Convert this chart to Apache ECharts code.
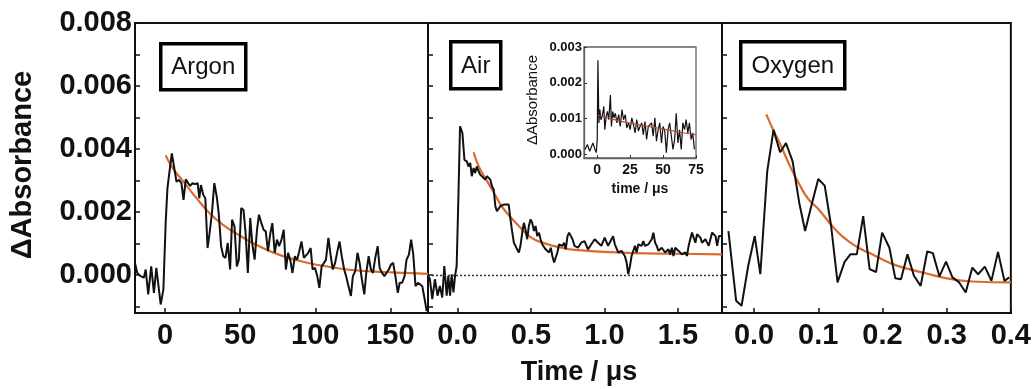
<!DOCTYPE html>
<html>
<head>
<meta charset="utf-8">
<script src="https://cdn.jsdelivr.net/npm/echarts@6.0.0/dist/echarts.min.js"></script>
<style>
html,body{margin:0;padding:0;background:#fff;}
#chart{width:1034px;height:389px;}
</style>
</head>
<body>
<div id="chart"></div>
<script>
// ---------- DATA ----------
const panelNames = ['Argon', 'Air', 'Oxygen'];

const argonTime = [-20,-18.5,-16.3,-14.1,-12.9,-11.2,-9.2,-7.4,-5.8,-4.5,-2.9,-1.1,0.4,1.6,3.1,4.5,6.0,7.6,9.4,10.9,12.3,13.8,15.4,16.7,18.3,19.9,21.7,22.8,23.9,25.4,26.8,28.3,29.9,31.2,32.8,34.4,35.7,37.3,38.8,40.2,41.7,43.3,44.6,46.2,47.8,49.1,50.7,52.2,53.6,55.1,56.7,58.0,59.6,61.2,62.5,64.1,65.6,67.0,68.5,70.1,71.4,73.0,74.5,75.9,77.5,79.0,80.4,81.9,83.5,84.8,86.4,87.9,89.3,90.8,92.4,93.7,95.3,96.9,98.2,99.8,101.3,102.7,104.2,105.8,107.1,108.7,110.3,111.6,113.2,114.7,116.1,117.6,119.2,120.5,122.1,123.7,125.0,126.6,128.1,129.5,131.0,132.6,133.9,135.5,137.0,138.4,139.9,141.5,142.8,144.4,146.0,147.3,148.9,150.4,151.8,153.3,154.9,156.2,157.8,159.4,160.7,162.3,163.8,165.2,166.7,168.3,169.6,171.2,172.8,174.1];
const argonAbs = [0.00039,0.00007,-0.00003,-0.00008,0.00018,-0.00061,0.00028,-0.00056,0.00023,0.00028,-0.00093,-0.00045,0.00165,0.00276,0.00334,0.00386,0.00344,0.00297,0.00302,0.00292,0.00239,0.00304,0.00292,0.00283,0.00292,0.00289,0.00292,0.00244,0.00286,0.00255,0.00244,0.00086,0.00144,0.00197,0.00292,0.00249,0.00197,0.00092,0.00060,0.00055,0.00102,0.00018,0.00176,0.00155,0.00028,0.00049,0.00213,0.00207,0.00134,0.00007,0.00181,0.00102,0.00049,0.00144,0.00192,0.00165,0.00144,0.00139,0.00076,0.00134,0.00165,0.00071,0.00113,0.00092,0.00113,0.00144,0.00018,0.00071,0.00044,0.00007,0.00060,0.00049,0.00076,0.00107,0.00055,0.00049,0.00071,0.00086,0.00018,0.00023,-0.00003,-0.00040,0.00028,0.00039,0.00049,0.00118,0.00060,0.00018,0.00039,0.00076,0.00107,0.00060,0.00018,-0.00003,-0.00035,-0.00066,-0.00003,0.00013,0.00071,0.00039,-0.00014,-0.00061,0.00007,0.00060,0.00018,0.00007,0.00055,0.00092,0.00023,0.00007,-0.00003,0.00007,0.00018,0.00034,0.00039,-0.00003,-0.00056,-0.00024,-0.00024,-0.00003,0.00049,0.00065,0.00113,0.00065,-0.00035,-0.00024,-0.00029,-0.00035,-0.00077,-0.00114];
const argonFitTime = [0.4,5,10,15,20,30,40,50,60,70,80,90,100,115,130,145,160,175];
const argonFitAbs = [0.0038,0.0034,0.0031,0.0028,0.0025,0.00195,0.00155,0.00125,0.00098,0.00076,0.00058,0.00045,0.00034,0.00022,0.00014,0.0001,0.00007,0.00004];

const airTime = [-0.199,-0.187,-0.171,-0.153,-0.135,-0.119,-0.103,-0.089,-0.073,-0.062,-0.050,-0.039,-0.027,-0.016,-0.005,0.007,0.018,0.025,0.034,0.048,0.064,0.075,0.087,0.098,0.110,0.121,0.132,0.144,0.155,0.167,0.189,0.201,0.212,0.224,0.235,0.247,0.258,0.269,0.279,0.292,0.304,0.315,0.326,0.349,0.361,0.372,0.384,0.395,0.406,0.418,0.429,0.441,0.452,0.463,0.475,0.486,0.498,0.509,0.521,0.532,0.543,0.555,0.566,0.577,0.589,0.600,0.612,0.623,0.635,0.646,0.658,0.669,0.680,0.692,0.703,0.715,0.726,0.737,0.749,0.760,0.772,0.783,0.797,0.820,0.842,0.865,0.888,0.911,0.934,0.957,0.979,1.002,1.025,1.048,1.059,1.071,1.094,1.116,1.139,1.151,1.162,1.174,1.185,1.208,1.219,1.231,1.253,1.265,1.276,1.299,1.322,1.333,1.345,1.356,1.368,1.390,1.413,1.436,1.447,1.459,1.470,1.482,1.505,1.527,1.550,1.562,1.573,1.584,1.596,1.607,1.619,1.630,1.642,1.653,1.664,1.687,1.710,1.733,1.756,1.767,1.779,1.800];
const airAbs = [-0.00002,-0.00013,-0.00076,-0.00013,-0.00065,-0.00034,-0.00071,0.00029,-0.00065,-0.00002,-0.00065,0.00003,-0.00055,-0.00002,0.00029,0.00251,0.00472,0.00477,0.00451,0.00366,0.00361,0.00345,0.00356,0.00314,0.00340,0.00324,0.00345,0.00330,0.00319,0.00314,0.00303,0.00314,0.00319,0.00303,0.00282,0.00272,0.00219,0.00203,0.00208,0.00219,0.00219,0.00224,0.00230,0.00224,0.00177,0.00140,0.00103,0.00093,0.00082,0.00072,0.00093,0.00135,0.00166,0.00145,0.00114,0.00156,0.00177,0.00166,0.00140,0.00156,0.00124,0.00135,0.00114,0.00098,0.00103,0.00082,0.00087,0.00072,0.00087,0.00061,0.00040,0.00056,0.00072,0.00098,0.00103,0.00093,0.00103,0.00082,0.00124,0.00135,0.00140,0.00114,0.00093,0.00087,0.00103,0.00108,0.00082,0.00098,0.00114,0.00103,0.00093,0.00119,0.00093,0.00114,0.00124,0.00098,0.00072,0.00077,0.00061,0.00040,0.00003,0.00029,0.00061,0.00093,0.00072,0.00098,0.00093,0.00108,0.00093,0.00098,0.00114,0.00135,0.00103,0.00093,0.00077,0.00087,0.00072,0.00082,0.00066,0.00087,0.00061,0.00087,0.00077,0.00066,0.00072,0.00061,0.00093,0.00114,0.00135,0.00119,0.00103,0.00130,0.00135,0.00119,0.00103,0.00114,0.00093,0.00135,0.00124,0.00093,0.00124,0.00124];
const airFitTime = [0.11,0.15,0.2,0.25,0.3,0.35,0.4,0.5,0.6,0.7,0.8,1.0,1.2,1.5,1.8];
const airFitAbs = [0.0039,0.0034,0.0030,0.0026,0.0022,0.0019,0.00165,0.0012,0.0010,0.00088,0.0008,0.00074,0.0007,0.00068,0.00066];

const oxyTime = [-0.040,-0.028,-0.0195,-0.0092,0.001,0.0097,0.0205,0.0303,0.0405,0.0497,0.060,0.0703,0.0795,0.0897,0.100,0.110,0.120,0.130,0.141,0.150,0.160,0.170,0.180,0.190,0.1995,0.2108,0.220,0.2288,0.239,0.249,0.2595,0.2697,0.2785,0.2888,0.299,0.309,0.3195,0.3297,0.340,0.349,0.3595,0.3697,0.380,0.390,0.3975];
const oxyAbs = [0.0014,-0.00081,-0.00097,0.00029,0.00124,0.00003,0.0033,0.00461,0.0039,0.00419,0.00361,0.0023,0.0014,0.00224,0.00305,0.00284,0.00156,-0.00023,0.00042,0.00066,0.00066,0.00187,0.00019,0.0001,0.00135,0.00087,-0.0001,-0.00013,0.00066,-0.00002,-0.00034,0.00075,0.0007,-0.00004,0.00043,-0.00007,-0.00023,-0.00055,0.00024,0.00003,0.00027,-0.00018,0.00074,-0.00018,-0.00007];
const oxyFitTime = [0.019,0.03,0.042,0.055,0.07,0.085,0.1,0.12,0.137,0.16,0.18,0.2,0.216,0.24,0.267,0.3,0.34,0.4];
const oxyFitAbs = [0.0051,0.0046,0.0041,0.0035,0.0029,0.0024,0.0021,0.0016,0.00124,0.0009,0.0007,0.0005,0.00035,0.0002,0.00006,-0.0001,-0.0002,-0.00023];

const insetTime = [-9.2,-7.4,-5.7,-4.2,-3.2,-1.7,-0.7,0.05,0.55,1.3,2.05,2.8,3.8,5.05,5.8,6.8,7.8,8.8,10.05,10.8,11.8,12.8,13.8,15.0,16.3,17.5,18.8,20.0,21.3,22.5,23.8,25.0,26.3,27.5,28.8,30.0,31.3,32.5,33.8,35.0,36.3,37.5,38.8,40.0,41.3,42.5,43.8,45.0,46.3,47.5,48.8,50.0,51.3,52.5,53.8,55.0,56.3,57.5,58.8,60.0,61.3,62.5,63.8,65.0,66.3,67.5,68.8,70.0,71.3,72.5,73.8];
const insetAbs = [0.00014,0.00028,0.00009,0.00023,0.00032,0.00014,0.00005,0.00042,0.00263,0.00088,0.00125,0.00097,0.00106,0.00134,0.00069,0.00106,0.0012,0.00097,0.00166,0.00078,0.0012,0.00102,0.00115,0.00088,0.00111,0.00078,0.00125,0.00097,0.00111,0.00074,0.00088,0.00069,0.00102,0.00083,0.0006,0.00097,0.00065,0.00078,0.00088,0.00055,0.00092,0.00042,0.00078,0.00074,0.00088,0.00051,0.00102,0.00037,0.00069,0.00088,0.00032,0.00078,0.00065,0.00005,0.00069,0.00088,0.00051,0.00014,0.00042,0.00115,0.00032,0.00069,0.00014,0.00088,0.00069,0.00097,0.0006,0.00088,0.00042,0.0006,0.00014];
const insetFitTime = [0.5,15,30,45,60,75];
const insetFitAbs = [0.0011,0.00095,0.00084,0.00074,0.00064,0.00055];

// tick labels
const argonXTicks = [0, 50, 100, 150];
const airXTicks = [0, 0.5, 1.0, 1.5];
const oxyXTicks = [0, 0.1, 0.2, 0.3, 0.4];
const yLabelValues = [0, 0.002, 0.004, 0.006, 0.008];
const yTickValues = [-0.001, 0, 0.001, 0.002, 0.003, 0.004, 0.005, 0.006, 0.007, 0.008];
const insetXTicks = [0, 25, 50, 75];
const insetYTicks = [0, 0.001, 0.002, 0.003];

// ---------- CHART ----------
const FONT = '"Liberation Sans", Arial, Helvetica, sans-serif';
const INK = '#111';
const ORANGE = '#dc6a2c';
const zip = (xs, ys) => xs.map((x, i) => [x, ys[i]]);

function mainX(idx, min, max, ticks, dec) {
  return {
    type: 'value', gridIndex: idx, min: min, max: max,
    axisLine: { show: true, onZero: false, lineStyle: { color: INK, width: 2 } },
    axisTick: { show: true, inside: true, length: 5, customValues: ticks, lineStyle: { color: INK, width: 1.5 } },
    axisLabel: { show: true, customValues: ticks, showMinLabel: true, showMaxLabel: true,
      formatter: v => v.toFixed(dec), fontFamily: FONT, fontSize: 29, fontWeight: 'bold', color: INK, margin: 8 },
    splitLine: { show: false }
  };
}
function mainY(idx, labels) {
  return {
    type: 'value', gridIndex: idx, min: -0.0012, max: 0.008,
    axisLine: { show: true, onZero: false, lineStyle: { color: INK, width: 2 } },
    axisTick: { show: true, inside: true, length: 5, customValues: yTickValues, lineStyle: { color: INK, width: 1.5 } },
    axisLabel: { show: labels, customValues: yLabelValues, formatter: v => v.toFixed(3),
      fontFamily: FONT, fontSize: 29, fontWeight: 'bold', color: INK, margin: 3 },
    splitLine: { show: false }
  };
}

const gridBase = { show: true, borderColor: INK, borderWidth: 2, backgroundColor: 'transparent' };

const dataLine = (xi, t, a, extra) => Object.assign({
  type: 'line', xAxisIndex: xi, yAxisIndex: xi, data: zip(t, a),
  symbol: 'none', showSymbol: false, smooth: false, clip: true,
  lineStyle: { color: INK, width: 2 }, z: 4, silent: true, animation: false
}, extra || {});
const fitLine = (xi, t, a, extra) => Object.assign({
  type: 'line', xAxisIndex: xi, yAxisIndex: xi, data: zip(t, a),
  symbol: 'none', showSymbol: false, smooth: true, clip: true,
  lineStyle: { color: ORANGE, width: 2.2 }, z: 3, silent: true, animation: false
}, extra || {});

function labelBox(x, y, w, h, text) {
  return {
    type: 'group', left: x, top: y, z: 20,
    children: [
      { type: 'rect', shape: { x: 0, y: 0, width: w, height: h },
        style: { fill: '#fff', stroke: '#000', lineWidth: 3.5 } },
      { type: 'text', x: w / 2, y: h / 2 + 1,
        style: { text: text, font: '24px ' + FONT, fill: INK, textAlign: 'center', textVerticalAlign: 'middle' } }
    ]
  };
}

const option = {
  backgroundColor: '#fff',
  animation: false,
  grid: [
    Object.assign({ left: 135, top: 23, width: 293, height: 290 }, gridBase),
    Object.assign({ left: 428, top: 23, width: 294, height: 290 }, gridBase),
    Object.assign({ left: 722, top: 23, width: 291, height: 290 }, gridBase),
    { left: 584, top: 47, width: 112, height: 111, show: true, borderColor: '#6b5d5d', borderWidth: 1.3, backgroundColor: '#fff', z: 8 }
  ],
  xAxis: [
    mainX(0, -20, 175, argonXTicks, 0),
    mainX(1, -0.2, 1.8, airXTicks, 1),
    mainX(2, -0.05, 0.4, oxyXTicks, 1),
    {
      type: 'value', gridIndex: 3, min: -10, max: 75, z: 9,
      axisLine: { show: true, onZero: false, lineStyle: { color: '#6b5d5d', width: 1.3 } },
      axisTick: { show: true, inside: true, length: 3, customValues: insetXTicks, lineStyle: { color: '#333', width: 1 } },
      axisLabel: { show: true, customValues: insetXTicks, fontFamily: FONT, fontSize: 14, fontWeight: 'bold', color: INK, margin: 5 },
      splitLine: { show: false }
    }
  ],
  yAxis: [
    mainY(0, true), mainY(1, false), mainY(2, false),
    {
      type: 'value', gridIndex: 3, min: -0.0001, max: 0.003, z: 9,
      axisLine: { show: true, onZero: false, lineStyle: { color: '#6b5d5d', width: 1.3 } },
      axisTick: { show: true, inside: true, length: 3, customValues: insetYTicks, lineStyle: { color: '#333', width: 1 } },
      axisLabel: { show: true, customValues: insetYTicks, formatter: v => v.toFixed(3), fontFamily: FONT, fontSize: 13, fontWeight: 'bold', color: INK, margin: 2 },
      splitLine: { show: false }
    }
  ],
  series: [
    fitLine(0, argonFitTime, argonFitAbs),
    dataLine(0, argonTime, argonAbs),
    fitLine(1, airFitTime, airFitAbs),
    dataLine(1, airTime, airAbs, {
      markLine: { silent: true, symbol: 'none', animation: false, label: { show: false },
        lineStyle: { type: [2, 2], color: '#333', width: 1.3 }, data: [{ yAxis: 0 }] }
    }),
    fitLine(2, oxyFitTime, oxyFitAbs),
    dataLine(2, oxyTime, oxyAbs),
    dataLine(3, insetTime, insetAbs, { lineStyle: { color: INK, width: 1.2 }, z: 10 }),
    fitLine(3, insetFitTime, insetFitAbs, { lineStyle: { color: '#b5483a', width: 1.2 }, z: 11 })
  ],
  graphic: [
    labelBox(159, 42, 85, 46, panelNames[0]),
    labelBox(449, 40, 50, 47, panelNames[1]),
    labelBox(739, 40, 104, 47, panelNames[2]),
    { type: 'text', x: 23, y: 165, rotation: Math.PI / 2, z: 20,
      style: { text: 'ΔAbsorbance', font: 'bold 29px ' + FONT, fill: INK, textAlign: 'center', textVerticalAlign: 'middle' } },
    { type: 'text', x: 579, y: 373, z: 20,
      style: { text: 'Time / μs', font: 'bold 27px ' + FONT, fill: INK, textAlign: 'center', textVerticalAlign: 'middle' } },
    { type: 'text', x: 533, y: 100, rotation: Math.PI / 2, z: 20,
      style: { text: 'ΔAbsorbance', font: '15px ' + FONT, fill: INK, textAlign: 'center', textVerticalAlign: 'middle' } },
    { type: 'text', x: 640, y: 189, z: 20,
      style: { text: 'time / μs', font: 'bold 14px ' + FONT, fill: INK, textAlign: 'center', textVerticalAlign: 'middle' } }
  ]
};

const chart = echarts.init(document.getElementById('chart'), null, { renderer: 'canvas' });
chart.setOption(option);
</script>
</body>
</html>
